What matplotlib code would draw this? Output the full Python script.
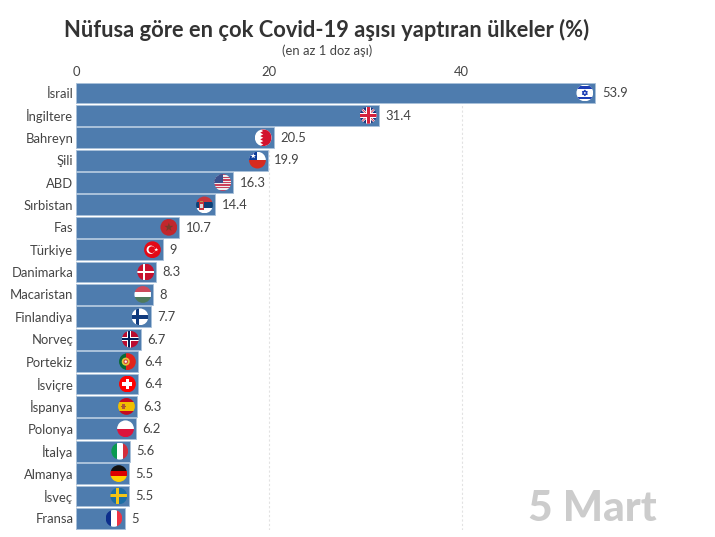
import numpy as np
import matplotlib
matplotlib.use("Agg")
import matplotlib.pyplot as plt
from matplotlib.patches import Rectangle, Circle, Polygon, RegularPolygon

plt.rcParams['font.family'] = ['Lato', 'DejaVu Sans']

countries = ["İsrail", "İngiltere", "Bahreyn", "Şili", "ABD", "Sırbistan", "Fas", "Türkiye",
             "Danimarka", "Macaristan", "Finlandiya", "Norveç", "Portekiz", "İsviçre",
             "İspanya", "Polonya", "İtalya", "Almanya", "İsveç", "Fransa"]
values = [53.9, 31.4, 20.5, 19.9, 16.3, 14.4, 10.7, 9, 8.3, 8, 7.7, 6.7, 6.4, 6.4, 6.3, 6.2,
          5.6, 5.5, 5.5, 5]
value_labels = ["53.9", "31.4", "20.5", "19.9", "16.3", "14.4", "10.7", "9", "8.3", "8", "7.7",
                "6.7", "6.4", "6.4", "6.3", "6.2", "5.6", "5.5", "5.5", "5"]
x_ticks = [0, 20, 40]

W, H = 715, 537
fig = plt.figure(figsize=(W / 100, H / 100), dpi=100)
L, R, T, B = 76.4, 692, 82.2, 530
ax = fig.add_axes([L / W, 1 - B / H, (R - L) / W, (B - T) / H])
n = len(values)
y = np.arange(n)
ax.barh(y, values, height=0.93, color="#4e7cae", edgecolor="#a9c1da", linewidth=0.6, zorder=2)
ax.set_xlim(0, (R - L) / 9.63)
ax.set_ylim(n - 0.5 + 0.02, -0.5 + 0.02)
ax.set_yticks(y, countries)
ax.xaxis.tick_top()
ax.set_xticks(x_ticks)
ax.tick_params(axis='both', length=0, labelsize=9.4, labelcolor="#444444")
ax.tick_params(axis='y', pad=2.2)
ax.tick_params(axis='x', pad=3.0)
ax.grid(axis='x', color="#e2e2e2", linestyle=(0, (2, 2)), linewidth=0.8, zorder=0)
ax.set_axisbelow(True)
for s in ax.spines.values():
    s.set_visible(False)

for yi, v, lab in zip(y, values, value_labels):
    ax.annotate(lab, (v, yi), xytext=(4.6, -0.2), textcoords='offset points', va='center', ha='left',
                fontsize=9.4, color="#444444", zorder=5)


def stripes_h(cols, weights=None):
    weights = weights or [1] * len(cols)
    edges = np.concatenate([[0], np.cumsum(weights)]) / sum(weights)
    return [Rectangle((-1, 1 - 2 * b), 2, 2 * (b - a), color=c, lw=0)
            for c, a, b in zip(cols, edges[:-1], edges[1:])]


def stripes_v(cols):
    e = np.linspace(-1, 1, len(cols) + 1)
    return [Rectangle((a, -1), b - a, 2, color=c, lw=0) for c, a, b in zip(cols, e[:-1], e[1:])]


def cross(bg, c, w, cx=-0.2, inner=None, iw=0):
    out = [Rectangle((-1, -1), 2, 2, color=bg, lw=0),
           Rectangle((cx - w / 2, -1), w, 2, color=c, lw=0),
           Rectangle((-1, -w / 2), 2, w, color=c, lw=0)]
    if inner:
        out += [Rectangle((cx - iw / 2, -1), iw, 2, color=inner, lw=0),
                Rectangle((-1, -iw / 2), 2, iw, color=inner, lw=0)]
    return out


def star(c, r, cx=0, cy=0, n_pts=5):
    ang = np.pi / 2 + np.arange(2 * n_pts) * np.pi / n_pts
    rad = np.where(np.arange(2 * n_pts) % 2 == 0, r, r * 0.4)
    return Polygon(np.c_[cx + rad * np.cos(ang), cy + rad * np.sin(ang)], color=c, lw=0)


def f_israel():
    return [Rectangle((-1, -1), 2, 2, color="white", lw=0),
            Rectangle((-1, 0.5), 2, 0.28, color="#1d3fb5", lw=0),
            Rectangle((-1, -0.78), 2, 0.28, color="#1d3fb5", lw=0),
            RegularPolygon((0, 0), 3, radius=0.34, fc="none", ec="#1d3fb5", lw=0.8),
            RegularPolygon((0, 0), 3, radius=0.34, orientation=np.pi, fc="none", ec="#1d3fb5", lw=0.8)]


def f_uk():
    blue, red = "#20307a", "#d5213c"
    out = [Rectangle((-1, -1), 2, 2, color=blue, lw=0)]
    for sgn in (1, -1):
        out.append(Polygon([(-1, -sgn * 0.8), (-1, -sgn), (-0.8, -sgn), (1, sgn * 0.8), (1, sgn), (0.8, sgn)],
                           color="white", lw=0))
    for sgn in (1, -1):
        out.append(Polygon([(-1, -sgn * 0.93), (-0.93, -sgn), (1, sgn * 0.93), (0.93, sgn)], color=red, lw=0))
    out += [Rectangle((-0.3, -1), 0.6, 2, color="white", lw=0), Rectangle((-1, -0.3), 2, 0.6, color="white", lw=0),
            Rectangle((-0.17, -1), 0.34, 2, color=red, lw=0), Rectangle((-1, -0.17), 2, 0.34, color=red, lw=0)]
    return out


def f_bahrain():
    pts = [(-0.35 if i % 2 == 0 else 0.0, 1 - i * 0.2) for i in range(11)]
    return [Rectangle((-1, -1), 2, 2, color="white", lw=0),
            Polygon(pts + [(1, -1), (1, 1)], color="#d2122e", lw=0)]


def f_chile():
    return [Rectangle((-1, 0), 2, 1, color="white", lw=0), Rectangle((-1, -1), 2, 1, color="#d72b1f", lw=0),
            Rectangle((-1, 0), 1, 1, color="#0f3e9b", lw=0), star("white", 0.35, -0.5, 0.5)]


def f_usa():
    return stripes_h(["#c9415a", "#eeeeee"] * 6 + ["#c9415a"]) + [
        Rectangle((-1, -0.05), 1.0, 1.05, color="#3b4f8c", lw=0)]


def f_serbia():
    return stripes_h(["#c6363c", "#0c4076", "white"]) + [
        Rectangle((-0.62, -0.55), 0.55, 0.85, color="#c6363c", lw=0),
        Rectangle((-0.48, -0.35), 0.27, 0.5, color="#dddddd", lw=0),
        Rectangle((-0.55, 0.3), 0.42, 0.22, color="#b9974f", lw=0)]


def f_morocco():
    return [Rectangle((-1, -1), 2, 2, color="#c1272d", lw=0), star("#7a3a28", 0.55)]


def f_turkey():
    return [Rectangle((-1, -1), 2, 2, color="#e30a17", lw=0),
            Circle((-0.2, 0), 0.5, color="white", lw=0), Circle((-0.07, 0), 0.4, color="#e30a17", lw=0),
            star("white", 0.25, 0.45, 0)]


def f_portugal():
    return [Rectangle((-1, -1), 0.85, 2, color="#0a6a36", lw=0), Rectangle((-0.15, -1), 1.15, 2, color="#e2231a", lw=0),
            Circle((-0.2, 0), 0.48, color="#e8c53a", lw=0), Circle((-0.2, 0), 0.28, color="#d6453c", lw=0),
            Circle((-0.2, 0), 0.14, color="white", lw=0)]


def f_swiss():
    return [Rectangle((-1, -1), 2, 2, color="#ff0000", lw=0), Rectangle((-0.2, -0.6), 0.4, 1.2, color="white", lw=0),
            Rectangle((-0.6, -0.2), 1.2, 0.4, color="white", lw=0)]


def f_spain():
    return stripes_h(["#c60b1e", "#f1bf00", "#c60b1e"], [1, 2, 1]) + [
        Rectangle((-0.55, -0.3), 0.4, 0.6, color="#b5533c", lw=0),
        Rectangle((-0.65, -0.1), 0.6, 0.14, color="#a05a2c", lw=0)]


flags = {
    "İsrail": f_israel, "İngiltere": f_uk, "Bahreyn": f_bahrain, "Şili": f_chile, "ABD": f_usa,
    "Sırbistan": f_serbia, "Fas": f_morocco, "Türkiye": f_turkey,
    "Danimarka": lambda: cross("#c8102e", "white", 0.3, -0.2),
    "Macaristan": lambda: stripes_h(["#cd4a5c", "white", "#4f7a5c"]),
    "Finlandiya": lambda: cross("white", "#0f3a7d", 0.42, -0.3),
    "Norveç": lambda: cross("#ba0c2f", "white", 0.5, -0.2, "#00205b", 0.26),
    "Portekiz": f_portugal, "İsviçre": f_swiss, "İspanya": f_spain,
    "Polonya": lambda: stripes_h(["white", "#dc143c"]),
    "İtalya": lambda: stripes_v(["#0a9a50", "white", "#d42e3c"]),
    "Almanya": lambda: stripes_h(["#111111", "#dd0000", "#ffce00"]),
    "İsveç": lambda: cross("#1c6ea4", "#f2c515", 0.36, -0.2),
    "Fransa": lambda: stripes_v(["#0d2f8c", "white", "#ee3344"]),
}

FLAG_R = 8.4
FLAG_OFF = 10.6
fig.canvas.draw()
for name, v, yi in zip(countries, values, y):
    px, py = ax.transData.transform((v, yi))
    cx = px - FLAG_OFF
    fa = fig.add_axes([(cx - FLAG_R) / W, (py - FLAG_R) / H, 2 * FLAG_R / W, 2 * FLAG_R / H], zorder=6)
    fa.set_xlim(-1, 1); fa.set_ylim(-1, 1); fa.axis('off')
    clip = Circle((0, 0), 1, transform=fa.transData)
    for art in flags[name]():
        fa.add_patch(art)
        art.set_clip_path(clip)

fig.text(327 / W, 1 - 30 / H, "Nüfusa göre en çok Covid-19 aşısı yaptıran ülkeler (%)", ha='center', va='center',
         fontsize=15.75, fontweight='bold', color="#333333")
fig.text(327.5 / W, 1 - 50.5 / H, "(en az 1 doz aşı)", ha='center', va='center', fontsize=9.4, color="#444444")
fig.text(592.5 / W, 1 - 509 / H, "5 Mart", ha='center', va='center', fontsize=30.5, fontweight='black',
         color="#cccccc", zorder=7)

fig.savefig("out.png", dpi=100, facecolor="white")
